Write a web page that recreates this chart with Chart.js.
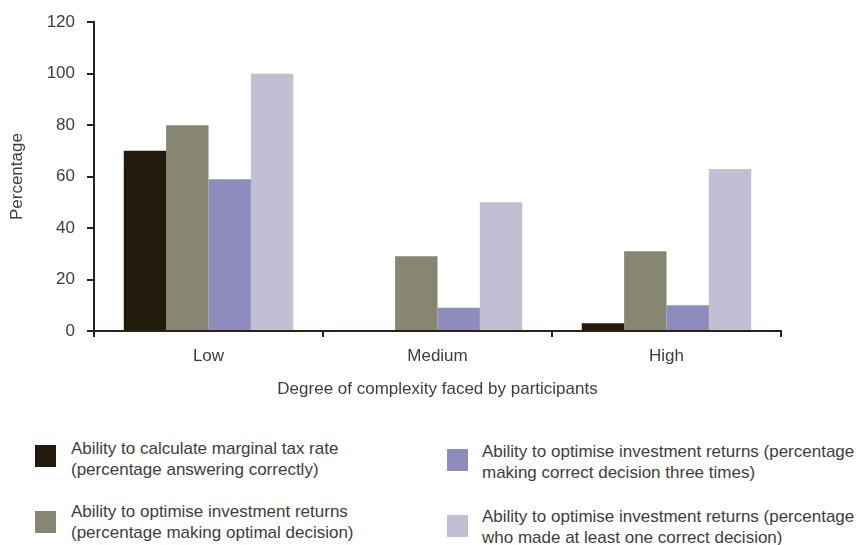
<!DOCTYPE html>
<html lang="en">
<head>
    <meta charset="UTF-8">
    <title>Degree of complexity</title>
    <script src="https://cdn.jsdelivr.net/npm/chart.js"></script>
    <style>
        body {
            margin: 0;
            font-family: "Liberation Sans", Arial, sans-serif;
            background: #fff;
        }
        .wrap {
            position: relative;
            width: 857px;
            height: 545px;
        }
        .chart-box {
            position: absolute;
            left: 0;
            top: 0;
            width: 857px;
            height: 410px;
        }
        .legend-item {
            position: absolute;
            font-size: 17px;
            line-height: 21px;
            color: #3d3d3d;
        }
        .legend-item .sw {
            position: absolute;
            width: 21px;
            height: 22px;
        }
        .legend-item .txt {
            position: absolute;
            white-space: nowrap;
        }
    </style>
</head>
<body>
<div class="wrap">
    <div class="chart-box"><canvas id="c"></canvas></div>
    <div id="legend"></div>
</div>

<script>
    // categories and values
    const categories = ['Low', 'Medium', 'High'];
    const taxRate = [70, 0, 3];
    const optimalDecision = [80, 29, 31];
    const threeTimes = [59, 9, 10];
    const atLeastOnce = [100, 50, 63];

    const seriesLabels = [
        ['Ability to calculate marginal tax rate', '(percentage answering correctly)'],
        ['Ability to optimise investment returns', '(percentage making optimal decision)'],
        ['Ability to optimise investment returns (percentage', 'making correct decision three times)'],
        ['Ability to optimise investment returns (percentage', 'who made at least one correct decision)']
    ];
    const colors = ['#221a0b', '#878673', '#8e8bbd', '#c2bfd4'];
    const yTicks = [0, 20, 40, 60, 80, 100, 120];

    const axisColor = '#2a2215';
    const textColor = '#3d3d3d';
    const font = { family: '"Liberation Sans", Arial, sans-serif', size: 17 };

    const allSeries = [taxRate, optimalDecision, threeTimes, atLeastOnce];

    new Chart(document.getElementById('c'), {
        type: 'bar',
        data: {
            labels: categories,
            datasets: allSeries.map((d, i) => ({
                label: seriesLabels[i].join(' '),
                data: d,
                backgroundColor: colors[i],
                borderWidth: 0,
                categoryPercentage: 0.74,
                barPercentage: 1
            }))
        },
        options: {
            responsive: true,
            maintainAspectRatio: false,
            animation: false,
            layout: { padding: { left: 0, right: 76, top: 22, bottom: 0 } },
            plugins: {
                legend: { display: false },
                tooltip: { enabled: false }
            },
            scales: {
                x: {
                    grid: {
                        drawOnChartArea: false,
                        drawTicks: true,
                        tickLength: 6,
                        color: axisColor,
                        lineWidth: 2
                    },
                    border: { color: axisColor, width: 2 },
                    ticks: { color: textColor, font: font, padding: 9 },
                    title: {
                        display: true,
                        text: 'Degree of complexity faced by participants',
                        color: textColor,
                        font: font,
                        padding: { top: 0, bottom: 10 }
                    },
                    afterFit: s => { s.height = 79; }
                },
                y: {
                    min: 0,
                    max: 120,
                    afterBuildTicks: s => { s.ticks = yTicks.map(v => ({ value: v })); },
                    grid: {
                        drawOnChartArea: false,
                        drawTicks: true,
                        tickLength: 7,
                        color: axisColor,
                        lineWidth: 2
                    },
                    border: { color: axisColor, width: 2 },
                    ticks: { color: textColor, font: font, padding: 12 },
                    title: {
                        display: true,
                        text: 'Percentage',
                        color: textColor,
                        font: font,
                        padding: { top: 7, bottom: 0 }
                    },
                    afterFit: s => { s.width = 94; }
                }
            }
        }
    });

    // legend in two columns, built as html
    const legendPos = [
        { x: 35, y: 445, tx: 71, ty: 438 },
        { x: 35, y: 511, tx: 71, ty: 501 },
        { x: 447, y: 449, tx: 482, ty: 441 },
        { x: 447, y: 515, tx: 482, ty: 506 }
    ];
    const legend = document.getElementById('legend');
    seriesLabels.forEach((lines, i) => {
        const p = legendPos[i];
        const item = document.createElement('div');
        item.className = 'legend-item';
        item.innerHTML =
            `<div class="sw" style="left:${p.x}px;top:${p.y}px;background:${colors[i]}"></div>` +
            `<div class="txt" style="left:${p.tx}px;top:${p.ty}px">${lines.join('<br>')}</div>`;
        legend.appendChild(item);
    });
</script>
</body>
</html>
